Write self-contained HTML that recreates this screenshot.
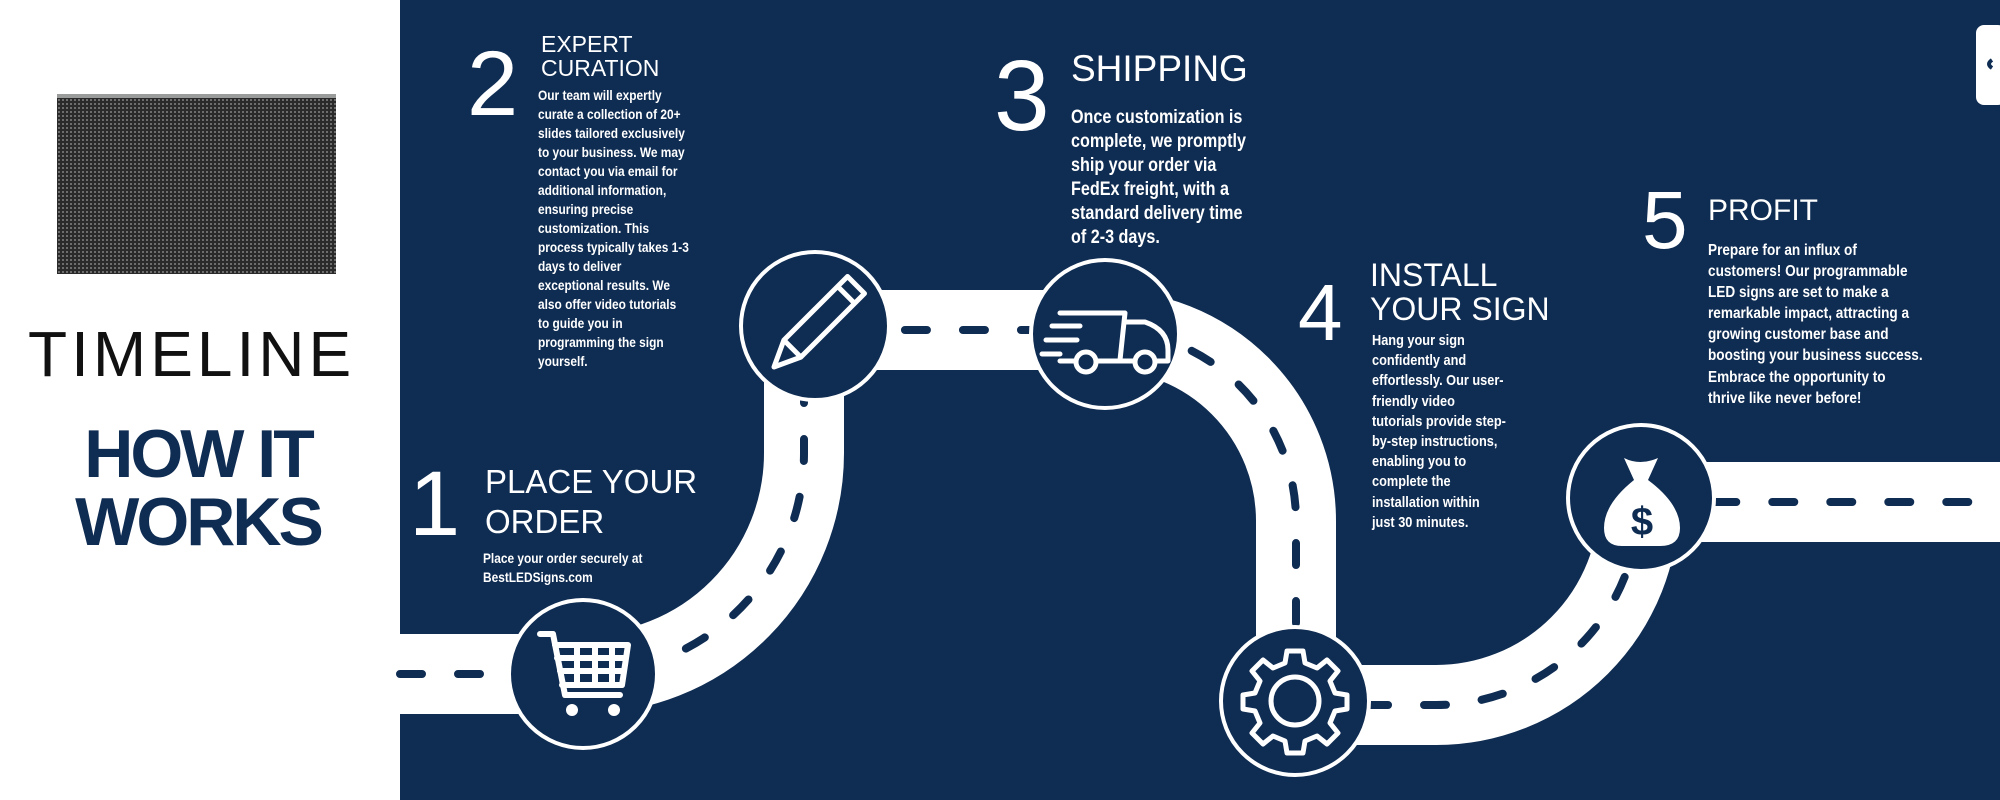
<!DOCTYPE html>
<html><head><meta charset="utf-8">
<style>
html,body{margin:0;padding:0}
body{width:2000px;height:800px;position:relative;overflow:hidden;background:#fff;font-family:"Liberation Sans",sans-serif}
.a{position:absolute;white-space:pre;color:#fff}
.h{font-weight:normal}
.b{font-weight:bold;transform:scaleX(.85);transform-origin:0 0}
.d{font-weight:normal;line-height:1}
</style></head><body>
<div style="position:absolute;left:400px;top:0;width:1600px;height:800px;background:#0f2c52"></div>
<div style="position:absolute;left:57px;top:94px;width:279px;height:180px;background:#2a2a2a;border-top:4px solid #9a9c9c;box-sizing:border-box;background-image:radial-gradient(circle,#777 0.9px,transparent 1.2px);background-size:4px 4px"></div>
<div class="a" style="left:28px;top:322px;font-size:64px;line-height:1;color:#111;letter-spacing:4px;font-weight:300">TIMELINE</div>
<div class="a" style="left:40px;width:316px;text-align:center;top:420px;font-size:68px;line-height:68px;color:#0f2c52;font-weight:bold;letter-spacing:-3px">HOW IT
WORKS</div>

<svg style="position:absolute;left:0;top:0" width="2000" height="800" viewBox="0 0 2000 800">
<g fill="none">
<path d="M400 674 L583 674 A221 221 0 0 0 804 453 L804 330 L1105 330 A191 191 0 0 1 1296 521 L1296 705 L1436 705 A203 203 0 0 0 1639 502 L2000 502" stroke="#fff" stroke-width="80"/>
<path d="M400 674 L583 674 A221 221 0 0 0 804 453 L804 330 L1105 330 A191 191 0 0 1 1296 521 L1296 705 L1436 705 A203 203 0 0 0 1639 502 L2000 502" stroke="#0f2c52" stroke-width="8" stroke-dasharray="22 36" stroke-linecap="round"/>
</g>
<rect x="1976" y="25" width="30" height="80" rx="8" fill="#fff"/>
<path d="M1992 60 q-6 4 0 8" stroke="#0f2c52" stroke-width="4" fill="none"/>
<g fill="#0f2c52" stroke="#fff" stroke-width="4">
<circle cx="583" cy="674" r="74"/>
<circle cx="815" cy="326" r="74"/>
<circle cx="1105" cy="334" r="74"/>
<circle cx="1295" cy="701" r="74"/>
<circle cx="1641" cy="498" r="73"/>
</g>
<g stroke="#fff" stroke-width="6" fill="none" stroke-linejoin="round" stroke-linecap="round">
<path d="M540 634 L553 634 L565 695 L620 695"/>
<path d="M555 645 L628 645 L622 685 L562 685"/>
<path d="M557 658 L625 658 M560 671 L624 671 M577 645 L577 685 M595 645 L595 685 M612 645 L612 685"/>
</g>
<circle cx="572" cy="710" r="6" fill="#fff"/><circle cx="614" cy="710" r="6" fill="#fff"/>
<g transform="translate(815 326) rotate(45)" stroke="#fff" stroke-width="5" fill="none" stroke-linejoin="round">
<path d="M-12 -58 L12 -58 L12 32 L0 58 L-12 32 Z"/>
<path d="M-12 -44 L12 -44 M-12 32 L12 32"/>
</g>
<g stroke="#fff" stroke-width="5" fill="none" stroke-linejoin="round" stroke-linecap="round">
<path d="M1060 313 L1125 313 L1120 360 M1124 322 L1145 322 Q1168 330 1168 350 L1168 361 L1155 361 M1133 361 L1097 361 M1075 361 L1060 361"/>
<path d="M1052 326 L1080 326 M1046 340 L1077 340 M1042 354 L1060 354"/>
<circle cx="1086" cy="362" r="10"/><circle cx="1145" cy="362" r="10"/>
</g>
<g transform="translate(1295 701)" stroke="#fff" stroke-width="5" fill="none" stroke-linejoin="round">
<path d="M-8 -50 L8 -50 L10 -38 L22 -33 L32 -41 L43 -30 L35 -20 L40 -8 L52 -6 L52 8 L40 10 L35 22 L43 32 L32 43 L22 35 L10 40 L8 52 L-8 52 L-10 40 L-22 35 L-32 43 L-43 32 L-35 22 L-40 10 L-52 8 L-52 -6 L-40 -8 L-35 -20 L-43 -30 L-32 -41 L-22 -33 L-10 -38 Z"/>
<circle r="24"/>
</g>
<path d="M1624 458 Q1640 466 1658 458 L1648 480 Q1680 504 1680 528 Q1680 546 1660 546 L1622 546 Q1604 546 1604 528 Q1604 504 1634 480 Z" fill="#fff"/>
<text x="1642" y="535" font-family="Liberation Sans" font-weight="bold" font-size="40" fill="#0f2c52" text-anchor="middle">$</text>
</svg>

<div class="a d" style="left:467px;top:38px;font-size:92px">2</div>
<div class="a h" style="left:541px;top:32px;font-size:23px;line-height:24px">EXPERT
CURATION</div>
<div class="a b" style="left:538px;top:86px;font-size:14px;line-height:19px">Our team will expertly
curate a collection of 20+
slides tailored exclusively
to your business. We may
contact you via email for
additional information,
ensuring precise
customization. This
process typically takes 1-3
days to deliver
exceptional results. We
also offer video tutorials
to guide you in
programming the sign
yourself.</div>

<div class="a d" style="left:409px;top:458px;font-size:92px">1</div>
<div class="a h" style="left:485px;top:462px;font-size:33px;line-height:40px">PLACE YOUR
ORDER</div>
<div class="a b" style="left:483px;top:549px;font-size:14px;line-height:19px">Place your order securely at
BestLEDSigns.com</div>

<div class="a d" style="left:994px;top:46px;font-size:100px">3</div>
<div class="a h" style="left:1071px;top:50px;font-size:37px;line-height:38px">SHIPPING</div>
<div class="a b" style="left:1071px;top:106px;font-size:19px;line-height:24px">Once customization is
complete, we promptly
ship your order via
FedEx freight, with a
standard delivery time
of 2-3 days.</div>

<div class="a d" style="left:1298px;top:273px;font-size:80px">4</div>
<div class="a h" style="left:1370px;top:258px;font-size:32px;line-height:34px">INSTALL
YOUR SIGN</div>
<div class="a b" style="left:1372px;top:331px;font-size:15px;line-height:20.2px">Hang your sign
confidently and
effortlessly. Our user-
friendly video
tutorials provide step-
by-step instructions,
enabling you to
complete the
installation within
just 30 minutes.</div>

<div class="a d" style="left:1642px;top:180px;font-size:82px">5</div>
<div class="a h" style="left:1708px;top:195px;font-size:30px;line-height:32px">PROFIT</div>
<div class="a b" style="left:1708px;top:240px;font-size:16px;line-height:21.1px">Prepare for an influx of
customers! Our programmable
LED signs are set to make a
remarkable impact, attracting a
growing customer base and
boosting your business success.
Embrace the opportunity to
thrive like never before!</div>
</body></html>
